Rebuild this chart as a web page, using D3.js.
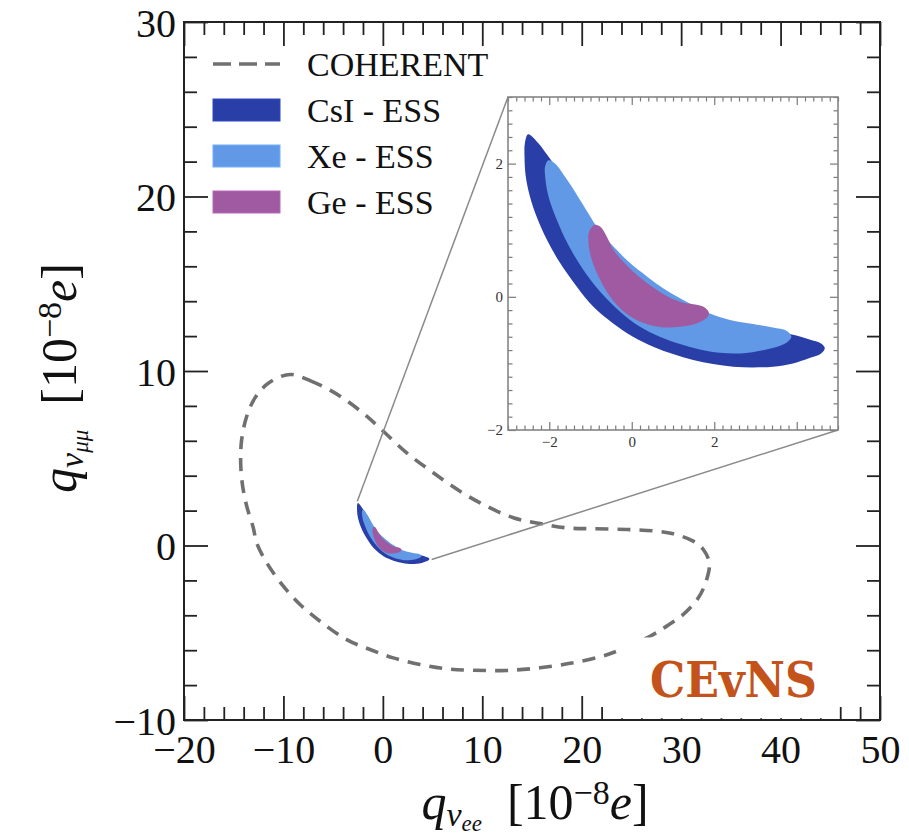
<!DOCTYPE html>
<html><head><meta charset="utf-8">
<script src="https://cdn.jsdelivr.net/npm/d3@7"></script>
<style>body{margin:0;background:#fff}svg{display:block}</style>
</head><body>
<svg id="chart" width="909" height="839"></svg>
<script>
// ---------------- data ----------------
const xDomain = [-20, 50];
const yDomain = [-10, 30];
const xMajorTicks = [-20, -10, 0, 10, 20, 30, 40, 50];
const yMajorTicks = [-10, 0, 10, 20, 30];
const xMinorStep = 2, yMinorStep = 2;

const insetXDomain = [-3, 5];
const insetYDomain = [-2, 3];
const insetXMajorTicks = [-2, 0, 2, 4];
const insetXLabels = [-2, 0, 2];
const insetYMajorTicks = [-2, 0, 2];
const insetMinorStep = 0.2;

// COHERENT 90% CL contour (dashed)
const coherentX = [-9.17,-7.33,-5.32,-3.64,-1.63,0.04,2.40,5.07,7.76,10.44,13.12,15.80,18.49,21.17,24.52,27.54,29.21,31.22,32.23,32.83,32.57,31.73,30.22,28.55,26.87,23.52,21.84,19.15,15.80,12.45,9.10,6.42,3.74,1.05,-1.29,-3.64,-6.32,-8.33,-10.01,-11.68,-12.69,-13.03,-13.69,-14.10,-14.30,-14.20,-13.69,-12.86,-11.68,-10.34];
const coherentY = [9.80,9.45,8.90,8.30,7.41,6.55,5.31,4.17,3.11,2.25,1.59,1.26,1.01,0.96,0.92,0.82,0.67,0.25,-0.23,-0.99,-1.95,-3.00,-3.95,-4.62,-5.20,-6.06,-6.38,-6.72,-7.01,-7.16,-7.15,-7.07,-6.82,-6.44,-5.96,-5.39,-4.34,-3.38,-2.33,-0.99,0.15,1.01,2.25,3.40,4.74,6.07,7.41,8.46,9.23,9.67];

// CsI - ESS
const csiX = [-2.51,-2.27,-2.06,-1.74,-1.42,-1.10,-0.77,-0.45,-0.05,0.36,0.76,1.17,1.57,1.97,2.46,2.94,3.42,3.91,4.31,4.59,4.68,4.59,4.31,3.91,3.42,2.94,2.46,1.97,1.49,1.00,0.52,0.03,-0.45,-0.93,-1.34,-1.74,-2.06,-2.31,-2.47,-2.57,-2.60,-2.59];
const csiY = [2.44,2.31,2.14,1.86,1.56,1.21,0.96,0.71,0.46,0.26,0.08,-0.07,-0.20,-0.30,-0.40,-0.47,-0.52,-0.57,-0.64,-0.70,-0.77,-0.85,-0.92,-1.00,-1.05,-1.06,-1.05,-1.01,-0.95,-0.86,-0.75,-0.60,-0.40,-0.15,0.16,0.51,0.86,1.21,1.51,1.81,2.11,2.31];

// Xe - ESS
const xeX = [-2.02,-1.86,-1.66,-1.46,-1.26,-1.01,-0.77,-0.45,-0.05,0.36,0.76,1.17,1.57,1.97,2.46,2.94,3.42,3.75,3.87,3.75,3.42,3.02,2.62,2.13,1.65,1.17,0.68,0.20,-0.29,-0.77,-1.18,-1.54,-1.82,-2.02,-2.10,-2.10];
const xeY = [2.05,2.00,1.84,1.66,1.46,1.21,0.98,0.76,0.51,0.31,0.13,-0.02,-0.15,-0.27,-0.36,-0.41,-0.46,-0.51,-0.60,-0.69,-0.77,-0.82,-0.85,-0.84,-0.79,-0.71,-0.60,-0.45,-0.22,0.08,0.41,0.78,1.16,1.51,1.81,1.96];

// Ge - ESS
const geX = [-0.89,-0.76,-0.61,-0.45,-0.21,0.12,0.52,0.92,1.25,1.57,1.77,1.87,1.81,1.57,1.17,0.76,0.36,-0.05,-0.45,-0.77,-0.97,-1.05,-1.03];
const geY = [1.08,1.05,0.91,0.71,0.53,0.33,0.14,-0.01,-0.09,-0.12,-0.16,-0.24,-0.32,-0.40,-0.45,-0.46,-0.41,-0.29,-0.06,0.26,0.56,0.81,0.98];

// zoom connector anchors (data coords of the small contour) and legend
const connectorTopLeft = [-2.57, 2.54];
const connectorBottomRight = [4.91, -0.80];
const legendLabels = ["COHERENT", "CsI - ESS", "Xe - ESS", "Ge - ESS"];
const badgeText = "CEvNS";
const badgeBox = {x0: 23.55, x1: 44.9, y0: -9.9, y1: -5.27};

// ---------------- styles ----------------
const colors = {csi: "#2a3ea7", xe: "#6199e6", ge: "#a05aa1", coh: "#707070", badge: "#c4521b"};
const serif = "'Liberation Serif', 'Times New Roman', serif";

const svg = d3.select("#chart");
svg.append("rect").attr("width", 909).attr("height", 839).attr("fill", "#fff");

const P = {l: 184, r: 880, t: 22, b: 720};
const x = d3.scaleLinear().domain(xDomain).range([P.l, P.r]);
const y = d3.scaleLinear().domain(yDomain).range([P.b, P.t]);

const I = {l: 508, r: 838, t: 97, b: 430};
const xi = d3.scaleLinear().domain(insetXDomain).range([I.l, I.r]);
const yi = d3.scaleLinear().domain(insetYDomain).range([I.b, I.t]);

const zip = (a, b) => a.map((v, i) => [v, b[i]]);
const minorVals = (dom, step, majors) => d3.range(dom[0], dom[1] + step / 2, step)
  .map(v => +v.toFixed(6)).filter(v => !majors.some(m => Math.abs(m - v) < 1e-6));

// ---------------- main plot contents ----------------
const mainLine = d3.line().x(d => x(d[0])).y(d => y(d[1])).curve(d3.curveCatmullRomClosed.alpha(0.5));
svg.append("path").attr("d", mainLine(zip(coherentX, coherentY)))
  .attr("fill", "none").attr("stroke", colors.coh).attr("stroke-width", 3.6)
  .attr("stroke-dasharray", "13,9");

[[csiX, csiY, colors.csi], [xeX, xeY, colors.xe], [geX, geY, colors.ge]].forEach(([xs, ys, c]) => {
  svg.append("path").attr("d", mainLine(zip(xs, ys))).attr("fill", c).attr("stroke", "none");
});

// connectors
svg.append("line").attr("x1", x(connectorTopLeft[0])).attr("y1", y(connectorTopLeft[1]))
  .attr("x2", I.l).attr("y2", I.t).attr("stroke", "#8a8a8a").attr("stroke-width", 1.5);
svg.append("line").attr("x1", x(connectorBottomRight[0])).attr("y1", y(connectorBottomRight[1]))
  .attr("x2", I.r).attr("y2", I.b).attr("stroke", "#8a8a8a").attr("stroke-width", 1.5);

// ---------------- main axes ticks ----------------
function styleAxis(g, col, w) {
  g.select(".domain").remove();
  g.selectAll(".tick line").attr("stroke", col).attr("stroke-width", w);
  g.selectAll("text").attr("fill", "#111").attr("font-family", serif);
}
const xMinor = minorVals(xDomain, xMinorStep, xMajorTicks);
const yMinor = minorVals(yDomain, yMinorStep, yMajorTicks);
const fmt = d3.format("d");
const axes = svg.append("g");
axes.append("g").attr("transform", `translate(0,${P.b})`)
  .call(d3.axisBottom(x).tickValues(xMajorTicks).tickSize(-24).tickPadding(15).tickFormat(fmt))
  .call(g => styleAxis(g, "#222", 1.8)).call(g => g.selectAll("text").attr("font-size", 40));
axes.append("g").attr("transform", `translate(0,${P.b})`)
  .call(d3.axisBottom(x).tickValues(xMinor).tickSize(-13).tickFormat(""))
  .call(g => styleAxis(g, "#222", 1.8));
axes.append("g").attr("transform", `translate(0,${P.t})`)
  .call(d3.axisTop(x).tickValues(xMajorTicks).tickSize(-24).tickFormat(""))
  .call(g => styleAxis(g, "#222", 1.8));
axes.append("g").attr("transform", `translate(0,${P.t})`)
  .call(d3.axisTop(x).tickValues(xMinor).tickSize(-13).tickFormat(""))
  .call(g => styleAxis(g, "#222", 1.8));
axes.append("g").attr("transform", `translate(${P.l},0)`)
  .call(d3.axisLeft(y).tickValues(yMajorTicks).tickSize(-24).tickPadding(8).tickFormat(fmt))
  .call(g => styleAxis(g, "#222", 1.8)).call(g => g.selectAll("text").attr("font-size", 40).attr("dy", "0.35em"));
axes.append("g").attr("transform", `translate(${P.l},0)`)
  .call(d3.axisLeft(y).tickValues(yMinor).tickSize(-13).tickFormat(""))
  .call(g => styleAxis(g, "#222", 1.8));
axes.append("g").attr("transform", `translate(${P.r},0)`)
  .call(d3.axisRight(y).tickValues(yMajorTicks).tickSize(-24).tickFormat(""))
  .call(g => styleAxis(g, "#222", 1.8));
axes.append("g").attr("transform", `translate(${P.r},0)`)
  .call(d3.axisRight(y).tickValues(yMinor).tickSize(-13).tickFormat(""))
  .call(g => styleAxis(g, "#222", 1.8));

// ---------------- inset ----------------
const inset = svg.append("g");
inset.append("rect").attr("x", I.l).attr("y", I.t).attr("width", I.r - I.l).attr("height", I.b - I.t).attr("fill", "#fff");
inset.append("clipPath").attr("id", "insetClip").append("rect")
  .attr("x", I.l).attr("y", I.t).attr("width", I.r - I.l).attr("height", I.b - I.t);
const insetLine = d3.line().x(d => xi(d[0])).y(d => yi(d[1])).curve(d3.curveCatmullRomClosed.alpha(0.5));
const ic = inset.append("g").attr("clip-path", "url(#insetClip)");
[[csiX, csiY, colors.csi], [xeX, xeY, colors.xe], [geX, geY, colors.ge]].forEach(([xs, ys, c]) => {
  ic.append("path").attr("d", insetLine(zip(xs, ys))).attr("fill", c).attr("stroke", "none");
});
const ixMinor = minorVals(insetXDomain, insetMinorStep, insetXMajorTicks);
const iyMinor = minorVals(insetYDomain, insetMinorStep, insetYMajorTicks);
const ifmt = d => insetXLabels.includes(d) ? d3.format("d")(d) : "";
const icol = "#7a7a7a";
inset.append("g").attr("transform", `translate(0,${I.b})`)
  .call(d3.axisBottom(xi).tickValues(insetXMajorTicks).tickSize(-8).tickPadding(6).tickFormat(ifmt))
  .call(g => styleAxis(g, icol, 1.2)).call(g => g.selectAll("text").attr("font-size", 15).attr("fill", "#333"));
inset.append("g").attr("transform", `translate(0,${I.b})`)
  .call(d3.axisBottom(xi).tickValues(ixMinor).tickSize(-4.5).tickFormat(""))
  .call(g => styleAxis(g, icol, 1.2));
inset.append("g").attr("transform", `translate(0,${I.t})`)
  .call(d3.axisTop(xi).tickValues(insetXMajorTicks).tickSize(-8).tickFormat(""))
  .call(g => styleAxis(g, icol, 1.2));
inset.append("g").attr("transform", `translate(0,${I.t})`)
  .call(d3.axisTop(xi).tickValues(ixMinor).tickSize(-4.5).tickFormat(""))
  .call(g => styleAxis(g, icol, 1.2));
inset.append("g").attr("transform", `translate(${I.l},0)`)
  .call(d3.axisLeft(yi).tickValues(insetYMajorTicks).tickSize(-8).tickPadding(5).tickFormat(d3.format("d")))
  .call(g => styleAxis(g, icol, 1.2)).call(g => g.selectAll("text").attr("font-size", 15).attr("fill", "#333"));
inset.append("g").attr("transform", `translate(${I.l},0)`)
  .call(d3.axisLeft(yi).tickValues(iyMinor).tickSize(-4.5).tickFormat(""))
  .call(g => styleAxis(g, icol, 1.2));
inset.append("g").attr("transform", `translate(${I.r},0)`)
  .call(d3.axisRight(yi).tickValues(insetYMajorTicks).tickSize(-8).tickFormat(""))
  .call(g => styleAxis(g, icol, 1.2));
inset.append("g").attr("transform", `translate(${I.r},0)`)
  .call(d3.axisRight(yi).tickValues(iyMinor).tickSize(-4.5).tickFormat(""))
  .call(g => styleAxis(g, icol, 1.2));
inset.append("rect").attr("x", I.l).attr("y", I.t).attr("width", I.r - I.l).attr("height", I.b - I.t)
  .attr("fill", "none").attr("stroke", "#858585").attr("stroke-width", 1.6);

// ---------------- legend ----------------
const lg = svg.append("g").attr("font-family", serif).attr("font-size", 34).attr("fill", "#111");
const lgX0 = 213, lgX1 = 280, lgTx = 307, lgY0 = 64, lgDy = 46;
lg.append("line").attr("x1", lgX0).attr("x2", lgX1).attr("y1", lgY0).attr("y2", lgY0)
  .attr("stroke", colors.coh).attr("stroke-width", 3.6).attr("stroke-dasharray", "18,8");
[colors.csi, colors.xe, colors.ge].forEach((c, i) => {
  const cy = lgY0 + lgDy * (i + 1);
  lg.append("rect").attr("x", lgX0).attr("y", cy - 11).attr("width", lgX1 - lgX0).attr("height", 22)
    .attr("fill", c).attr("stroke", d3.color(c).brighter(0.4)).attr("stroke-width", 1);
});
legendLabels.forEach((t, i) => {
  lg.append("text").attr("x", lgTx).attr("y", lgY0 + lgDy * i + 12).text(t);
});

// ---------------- badge ----------------
svg.append("rect").attr("x", x(badgeBox.x0)).attr("y", y(badgeBox.y1))
  .attr("width", x(badgeBox.x1) - x(badgeBox.x0)).attr("height", y(badgeBox.y0) - y(badgeBox.y1))
  .attr("fill", "#fff");
svg.append("text").attr("x", 650).attr("y", 697).attr("font-family", "'DejaVu Serif', serif")
  .attr("font-weight", "bold").attr("font-size", 48).attr("fill", colors.badge)
  .attr("textLength", 167).attr("lengthAdjust", "spacingAndGlyphs").text(badgeText);

// frame
svg.append("rect").attr("x", P.l).attr("y", P.t).attr("width", P.r - P.l).attr("height", P.b - P.t)
  .attr("fill", "none").attr("stroke", "#222").attr("stroke-width", 2);

// ---------------- axis titles ----------------
function axisTitle(sel, sub) {
  sel.append("tspan").attr("font-style", "italic").text("q");
  sel.append("tspan").attr("font-style", "italic").attr("font-size", 34).attr("dy", 7).text("ν");
  sel.append("tspan").attr("font-style", "italic").attr("font-size", 23).attr("dy", 5).text(sub);
  sel.append("tspan").attr("dy", -12).text("\u2002[10");
  sel.append("tspan").attr("font-size", 34).attr("dy", -15).text("−8");
  sel.append("tspan").attr("font-style", "italic").attr("dy", 15).text("e");
  sel.append("tspan").text("]");
}
const xt = svg.append("text").attr("x", 535).attr("y", 819).attr("text-anchor", "middle")
  .attr("font-family", serif).attr("font-size", 50).attr("fill", "#111");
axisTitle(xt, "ee");

const yt = svg.append("text").attr("transform", "translate(76,378) rotate(-90)").attr("text-anchor", "middle")
  .attr("font-family", serif).attr("font-size", 50).attr("fill", "#111");
axisTitle(yt, "μμ");
</script>
</body></html>
